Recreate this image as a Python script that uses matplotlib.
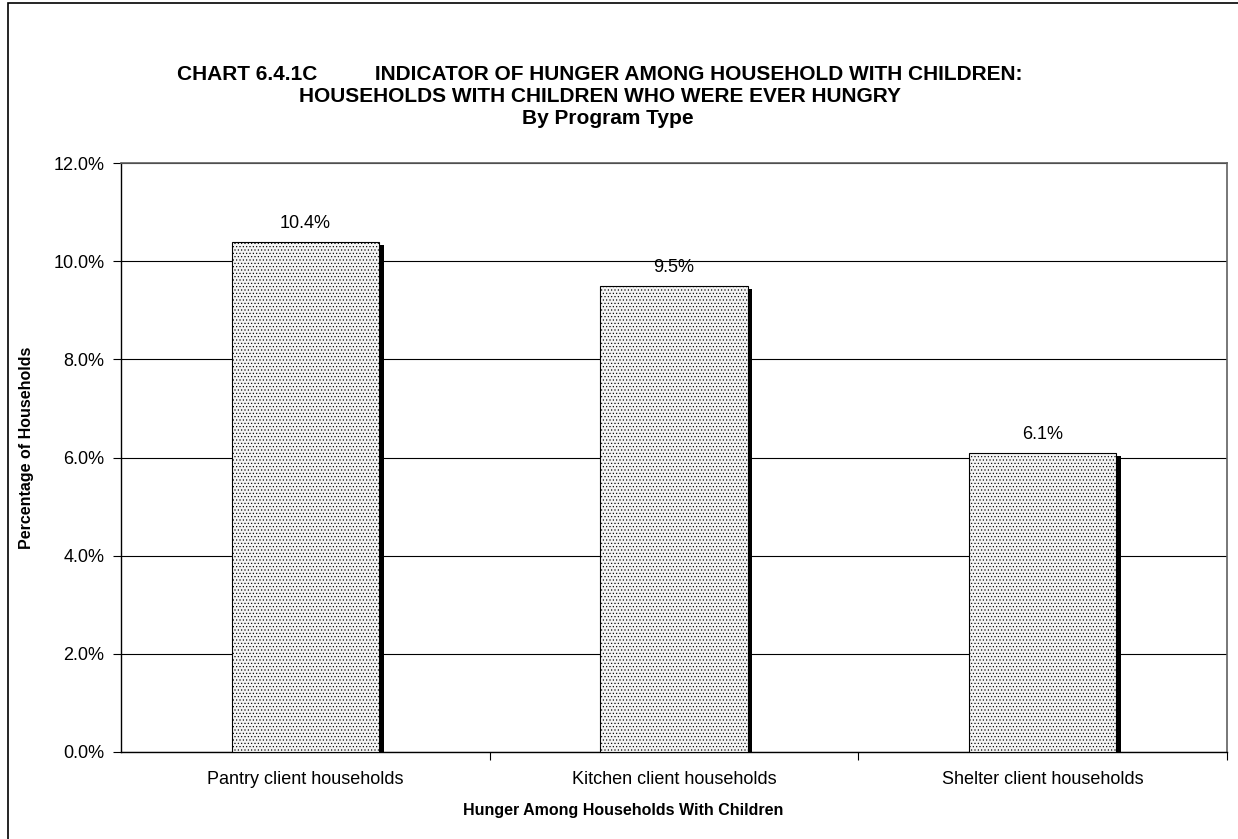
import matplotlib.pyplot as plt
from matplotlib.patches import Rectangle
from matplotlib.ticker import FuncFormatter

categories = ['Pantry client households', 'Kitchen client households', 'Shelter client households']
values = [10.4, 9.5, 6.1]
labels = ['10.4%', '9.5%', '6.1%']

plt.rcParams['font.family'] = ['Liberation Sans', 'DejaVu Sans']
plt.rcParams['hatch.color'] = '#b0b0b0'
plt.rcParams['hatch.linewidth'] = 0.45

fig = plt.figure(figsize=(12.38, 8.39), dpi=100)
fig.patches.append(Rectangle((8/1238, -0.1), 1.2, 1 - 3/839 + 0.1, transform=fig.transFigure,
                             fill=False, edgecolor='black', linewidth=1.2))

ax = fig.add_axes([121/1238, 87/839, 1106/1238, 589/839])
x = range(len(categories))
w = 0.4
dx = 4.5 / 368.7
dy = 3 / 589 * 12

# shadows
ax.bar([i + dx for i in x], [v - dy for v in values], width=w, color='black', zorder=2)
ax.bar(x, values, width=w, facecolor='#f4f4f4', edgecolor='black', linewidth=0.8,
       hatch='.....', zorder=3)

for i, v in enumerate(values):
    ax.text(i, v + 0.2, labels[i], ha='center', va='bottom', fontsize=13)

ax.set_xlim(-0.5, 2.5)
ax.set_ylim(0, 12)
ax.set_yticks([0, 2, 4, 6, 8, 10, 12])
ax.yaxis.set_major_formatter(FuncFormatter(lambda v, p: '%.1f%%' % v))
ax.yaxis.grid(True, color='black', linewidth=0.8)
ax.set_axisbelow(True)
ax.set_xticks([0.5, 1.5, 2.5])
ax.set_xticklabels([])
ax.set_xticks(list(x), minor=True)
ax.set_xticklabels(categories, minor=True, fontsize=13)
ax.tick_params(axis='x', which='minor', length=0, pad=14)
ax.tick_params(axis='x', which='major', length=6, direction='out')
ax.tick_params(axis='y', length=6, direction='out', labelsize=13, pad=6)

for s in ['left', 'bottom']:
    ax.spines[s].set_linewidth(1.0)
for s in ['top', 'right']:
    ax.spines[s].set_color('#606060')
    ax.spines[s].set_linewidth(1.2)

fig.text(27/1238, 1 - 448/839, 'Percentage of Households', rotation=90,
         ha='center', va='center', fontsize=11.5, fontweight='bold')
fig.text(623/1238, 1 - 810/839, 'Hunger Among Households With Children',
         ha='center', va='center', fontsize=11.5, fontweight='bold')

fig.text(600/1238, 1 - 75/839, 'CHART 6.4.1C          INDICATOR OF HUNGER AMONG HOUSEHOLD WITH CHILDREN:',
         ha='center', va='center', fontsize=15, fontweight='bold')
fig.text(600/1238, 1 - 97/839, 'HOUSEHOLDS WITH CHILDREN WHO WERE EVER HUNGRY',
         ha='center', va='center', fontsize=15, fontweight='bold')
fig.text(608/1238, 1 - 119/839, 'By Program Type',
         ha='center', va='center', fontsize=15, fontweight='bold')

fig.savefig('out.png', dpi=100)
